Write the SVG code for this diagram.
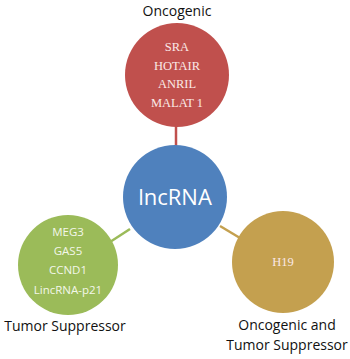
<svg xmlns="http://www.w3.org/2000/svg" width="350" height="359" viewBox="0 0 350 359">
<style>
.lbl{font-family:"Open Sans","Liberation Sans",sans-serif;font-size:14px;fill:#111;text-anchor:middle}
.ser{font-family:"Liberation Serif",serif;font-size:12.5px;fill:#fbe9e7;text-anchor:middle}
.san{font-family:"Open Sans","Liberation Sans",sans-serif;font-size:11.5px;fill:#f3f7ea;text-anchor:middle}
.conn{stroke-width:2.5;fill:none}
</style>
<rect width="350" height="359" fill="#fff"/>
<g id="connectors">
<line class="conn" x1="176" y1="126" x2="176" y2="147" stroke="#C0504D"/>
<line class="conn" x1="110" y1="242" x2="130" y2="229" stroke="#9BBB59"/>
<line class="conn" x1="220" y1="226" x2="240" y2="238" stroke="#C4A04F"/>
</g>
<g id="oncogenic">
<text class="lbl" x="177" y="16">Oncogenic</text>
<circle cx="177" cy="75" r="52" fill="#C0504D"/>
<text class="ser" x="177" y="51">SRA</text>
<text class="ser" x="177" y="70">HOTAIR</text>
<text class="ser" x="177" y="88">ANRIL</text>
<text class="ser" x="177" y="107">MALAT 1</text>
</g>
<g id="lncrna">
<circle cx="175" cy="197" r="52" fill="#4F81BD"/>
<text x="175" y="205" font-family="Open Sans, Liberation Sans, sans-serif" font-size="22" fill="#fff" text-anchor="middle">lncRNA</text>
</g>
<g id="suppressor">
<circle cx="68" cy="265" r="50" fill="#9BBB59"/>
<text class="san" x="68" y="236">MEG3</text>
<text class="san" x="68" y="255">GAS5</text>
<text class="san" x="68" y="274">CCND1</text>
<text class="san" x="68" y="294">LincRNA-p21</text>
<text class="lbl" x="65" y="331">Tumor Suppressor</text>
</g>
<g id="both">
<circle cx="283" cy="262" r="51" fill="#C4A04F"/>
<text class="ser" x="283" y="266" fill="#fff">H19</text>
<text class="lbl" x="287" y="330">Oncogenic and</text>
<text class="lbl" x="287" y="350">Tumor Suppressor</text>
</g>
</svg>
